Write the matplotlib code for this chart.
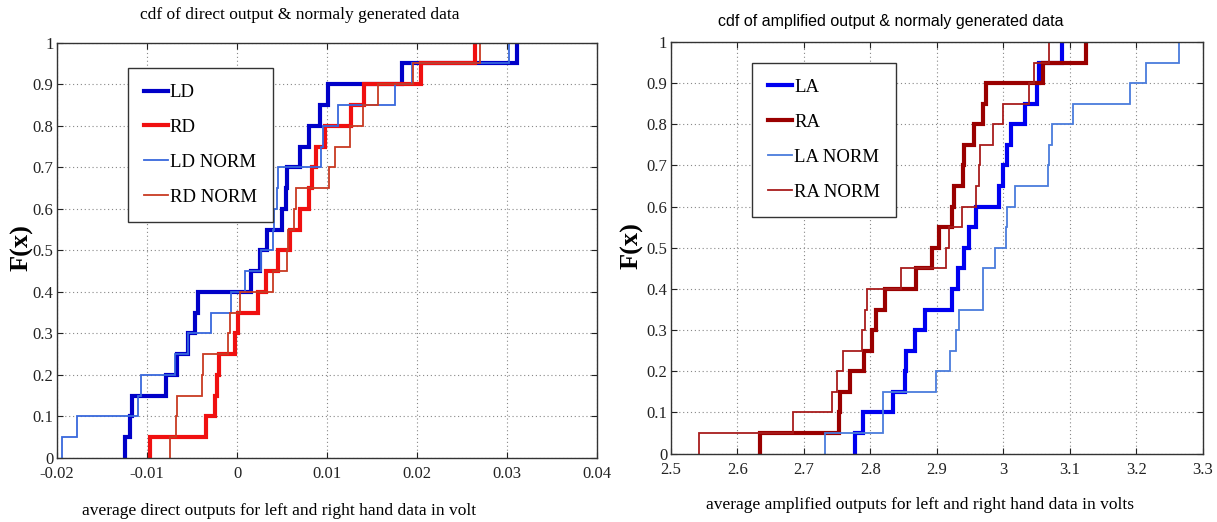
import matplotlib
matplotlib.use("Agg")
import matplotlib.pyplot as plt
import numpy as np

# ---------------- data (sorted sample values read from the step positions) ----------------
LD = [-0.0125, -0.0119, -0.0117, -0.0079, -0.0067, -0.0054, -0.0047, -0.0043, 0.0016, 0.0026,
      0.0033, 0.0050, 0.0054, 0.0056, 0.0070, 0.0080, 0.0092, 0.0101, 0.0183, 0.0311]
RD = [-0.0097, -0.0035, -0.0024, -0.0022, -0.0020, -0.0002, 0.0001, 0.0023, 0.0032, 0.0045,
      0.0059, 0.0070, 0.0080, 0.0083, 0.0088, 0.0098, 0.0127, 0.0141, 0.0204, 0.0264]
LD_NORM = [-0.0194, -0.0178, -0.0110, -0.0107, -0.0069, -0.0055, -0.0029, -0.0007, 0.0009, 0.0027,
           0.0040, 0.0041, 0.0044, 0.0046, 0.0093, 0.0095, 0.0112, 0.0176, 0.0194, 0.0302]
RD_NORM = [-0.0075, -0.0068, -0.0067, -0.0039, -0.0038, -0.0010, -0.0008, 0.0003, 0.0040, 0.0055,
           0.0057, 0.0063, 0.0066, 0.0102, 0.0109, 0.0126, 0.0140, 0.0157, 0.0196, 0.0270]

LA = [2.7765, 2.789, 2.834, 2.8515, 2.853, 2.8665, 2.8815, 2.923, 2.9315, 2.9415,
      2.948, 2.959, 2.993, 3.000, 3.006, 3.011, 3.032, 3.050, 3.053, 3.088]
RA = [2.634, 2.7525, 2.754, 2.769, 2.791, 2.803, 2.809, 2.8215, 2.869, 2.893,
      2.903, 2.923, 2.925, 2.939, 2.941, 2.956, 2.969, 2.974, 3.059, 3.124]
LA_NORM = [2.7325, 2.8185, 2.819, 2.899, 2.920, 2.929, 2.933, 2.969, 2.970, 2.988,
           3.004, 3.005, 3.018, 3.0665, 3.068, 3.073, 3.105, 3.190, 3.214, 3.264]
RA_NORM = [2.543, 2.684, 2.743, 2.750, 2.759, 2.788, 2.7915, 2.795, 2.8465, 2.914,
           2.918, 2.938, 2.959, 2.964, 2.965, 2.984, 2.999, 3.038, 3.046, 3.069]

left_labels = ["LD", "RD", "LD NORM", "RD NORM"]
right_labels = ["LA", "RA", "LA NORM", "RA NORM"]

left_xticks = [-0.02, -0.01, 0, 0.01, 0.02, 0.03, 0.04]
left_xticklabels = ["-0.02", "-0.01", "0", "0.01", "0.02", "0.03", "0.04"]
right_xticks = [2.5, 2.6, 2.7, 2.8, 2.9, 3.0, 3.1, 3.2, 3.3]
right_xticklabels = ["2.5", "2.6", "2.7", "2.8", "2.9", "3", "3.1", "3.2", "3.3"]
yticks = [0, 0.1, 0.2, 0.3, 0.4, 0.5, 0.6, 0.7, 0.8, 0.9, 1.0]
yticklabels = ["0", "0.1", "0.2", "0.3", "0.4", "0.5", "0.6", "0.7", "0.8", "0.9", "1"]

left_title = "cdf of direct output & normaly generated data"
right_title = "cdf of amplified output & normaly generated data"
left_xlabel = "average direct outputs for left and right hand data in volt"
right_xlabel = "average amplified outputs for left and right hand data in volts"
ylabel = "F(x)"

# ---------------- styling ----------------
SERIF = ["Liberation Serif", "DejaVu Serif"]
SANS = ["Liberation Sans", "DejaVu Sans"]

left_styles = [dict(color="#0000C8", lw=3.0), dict(color="#F01010", lw=3.0),
               dict(color="#3868DC", lw=1.3), dict(color="#C83A22", lw=1.3)]
right_styles = [dict(color="#0000F0", lw=3.0), dict(color="#9A0000", lw=3.0),
                dict(color="#4A7CDC", lw=1.3), dict(color="#A81C1C", lw=1.3)]


def ecdf(vals):
    v = np.sort(np.asarray(vals, dtype=float))
    n = len(v)
    xs = np.concatenate([[v[0]], v])
    ys = np.concatenate([[0.0], np.arange(1, n + 1) / n])
    return xs, ys


W, H = 1217, 522
fig = plt.figure(figsize=(W / 100, H / 100), dpi=100)
fig.patch.set_facecolor("white")

axL = fig.add_axes([57 / W, (H - 458) / H, 540 / W, 415.3 / H])
axR = fig.add_axes([670.75 / W, (H - 453.6) / H, 532.25 / W, 411.6 / H])


def style_axes(ax, xlim, xticks, xticklabels):
    ax.set_xlim(*xlim)
    ax.set_ylim(0, 1)
    ax.set_xticks(xticks)
    ax.set_xticklabels(xticklabels, family=SERIF, fontsize=12)
    ax.set_yticks(yticks)
    ax.set_yticklabels(yticklabels, family=SERIF, fontsize=12)
    ax.tick_params(direction="in", length=4, width=0.8, top=True, right=True,
                   colors="#222222")
    ax.tick_params(axis="x", pad=6)
    ax.tick_params(axis="y", pad=2.5)
    ax.grid(True, linestyle=(0, (1, 2.5)), color="#888888", linewidth=0.8)
    for s in ax.spines.values():
        s.set_color("#333333")
        s.set_linewidth(1.0)


series_L = [LD, RD, LD_NORM, RD_NORM]
for vals, lab, st in zip(series_L, left_labels, left_styles):
    xs, ys = ecdf(vals)
    axL.plot(xs, ys, drawstyle="steps-post", label=lab, solid_joinstyle="miter", **st)

series_R = [LA, RA, LA_NORM, RA_NORM]
for vals, lab, st in zip(series_R, right_labels, right_styles):
    xs, ys = ecdf(vals)
    axR.plot(xs, ys, drawstyle="steps-post", label=lab, solid_joinstyle="miter", **st)

style_axes(axL, (-0.02, 0.04), left_xticks, left_xticklabels)
style_axes(axR, (2.5, 3.3), right_xticks, right_xticklabels)

leg_kw = dict(loc="upper left", frameon=True, fancybox=False, framealpha=1,
              edgecolor="#333333", handlelength=1.3, handletextpad=0.1,
              labelspacing=0.95, borderpad=0.85, borderaxespad=0.0,
              prop={"family": SERIF, "size": 13.5})
legL = axL.legend(bbox_to_anchor=(0.131, 0.939), **leg_kw)
legR = axR.legend(bbox_to_anchor=(0.153, 0.949), **leg_kw)
for leg in (legL, legR):
    leg.get_frame().set_linewidth(1.0)

# titles
axL.text(0.45, 1.067, left_title, transform=axL.transAxes, ha="center", va="center",
         family=SERIF, fontsize=12.5)
axR.text(0.414, 1.05, right_title, transform=axR.transAxes, ha="center", va="center",
         family=SANS, fontsize=11.5)

# x labels
axL.text(0.411, -0.127, left_xlabel, transform=axL.transAxes, ha="center", va="center",
         family=SERIF, fontsize=12.5)
axR.text(0.468, -0.125, right_xlabel, transform=axR.transAxes, ha="center", va="center",
         family=SERIF, fontsize=12.5)

# y labels
fig.text(22 / W, 1 - 248 / H, ylabel, rotation=90, ha="center", va="center",
         family=SERIF, fontsize=19, fontweight="bold")
fig.text(632 / W, 1 - 246 / H, ylabel, rotation=90, ha="center", va="center",
         family=SERIF, fontsize=19, fontweight="bold")

fig.savefig("out.png", dpi=100, facecolor="white")
